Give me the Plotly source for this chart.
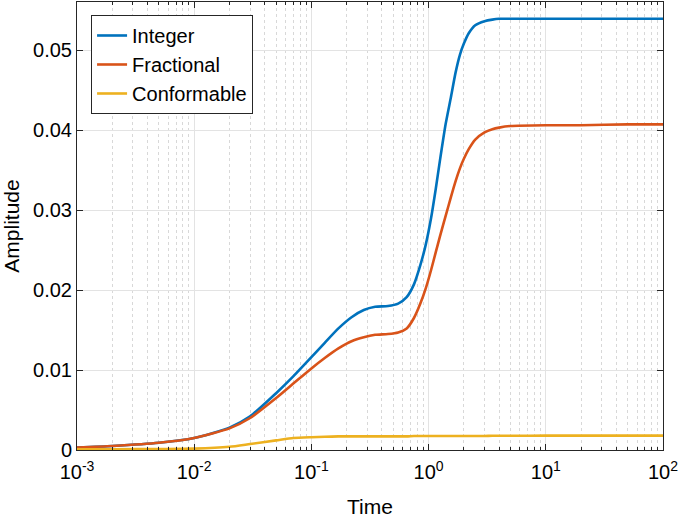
import plotly.graph_objects as go

time = [0.001, 0.002, 0.005, 0.01, 0.02, 0.03, 0.05, 0.07, 0.1, 0.13, 0.17, 0.22, 0.28,
        0.35, 0.45, 0.55, 0.65, 0.75, 0.85, 0.95, 1.05, 1.15, 1.25, 1.4, 1.55, 1.7,
        1.85, 2.0, 2.2, 2.5, 3.0, 3.5, 4.0, 5.0, 10, 20, 50, 100]

integer = [0.0003, 0.0005, 0.0009, 0.0015, 0.0028, 0.0042, 0.0071, 0.0092, 0.0116,
           0.0134, 0.0152, 0.0166, 0.0175, 0.0179, 0.0180, 0.0183, 0.0191, 0.0207,
           0.0231, 0.0258, 0.0290, 0.0326, 0.0362, 0.0408, 0.0441, 0.0472, 0.0494,
           0.0508, 0.0521, 0.0531, 0.0536, 0.0538, 0.0539, 0.0539, 0.0539, 0.0539,
           0.0539, 0.0539]

fractional = [0.0003, 0.0005, 0.0009, 0.0015, 0.0027, 0.0040, 0.0065, 0.0083, 0.0102,
              0.0115, 0.0127, 0.0136, 0.0141, 0.0144, 0.0145, 0.0147, 0.0152, 0.0165,
              0.0183, 0.0203, 0.0225, 0.0247, 0.0267, 0.0293, 0.0316, 0.0336, 0.0352,
              0.0364, 0.0376, 0.0388, 0.0397, 0.0401, 0.0403, 0.0405, 0.0406, 0.0406,
              0.0407, 0.0407]

conformable = [0.0001, 0.0001, 0.00013, 0.00017, 0.0004, 0.00075, 0.0012, 0.0015, 0.0016,
               0.00165, 0.0017, 0.0017, 0.0017, 0.0017, 0.0017, 0.0017, 0.0017, 0.00175,
               0.00175, 0.00175, 0.00175, 0.00175, 0.00175, 0.00175, 0.00175, 0.00175,
               0.00175, 0.00175, 0.00175, 0.00175, 0.00175, 0.00178, 0.00178, 0.00178,
               0.0018, 0.0018, 0.0018, 0.0018]

x_tickvals = [0.001, 0.01, 0.1, 1, 10, 100]
x_ticktext = ["10<sup>-3</sup>", "10<sup>-2</sup>", "10<sup>-1</sup>",
              "10<sup>0</sup>", "10<sup>1</sup>", "10<sup>2</sup>"]
y_tickvals = [0, 0.01, 0.02, 0.03, 0.04, 0.05]
y_ticktext = ["0", "0.01", "0.02", "0.03", "0.04", "0.05"]

series = [("Integer", integer, "#0072BD"),
          ("Fractional", fractional, "#D95319"),
          ("Conformable", conformable, "#EDB120")]

fig = go.Figure()
for name, vals, color in series:
    fig.add_trace(go.Scatter(x=time, y=vals, mode="lines", name=name,
                             line=dict(color=color, width=2.6, shape="spline", smoothing=0.6)))

font = "Liberation Sans, Arial, Helvetica, sans-serif"
fig.update_layout(
    width=680, height=518,
    margin=dict(l=77, r=17, t=2, b=68, autoexpand=False),
    paper_bgcolor="white", plot_bgcolor="white",
    font=dict(family=font, size=20, color="black"),
    showlegend=True,
    legend=dict(x=0.024, y=0.971, xanchor="left", yanchor="top",
                bgcolor="white", bordercolor="#262626", borderwidth=1,
                font=dict(size=20, color="black"), tracegroupgap=0,
                itemwidth=30),
)
fig.update_xaxes(
    type="log", range=[-3, 2], automargin=False,
    tickvals=x_tickvals, ticktext=x_ticktext, ticklabelstandoff=4,
    ticks="inside", ticklen=6, tickcolor="#262626",
    showline=True, linecolor="#262626", linewidth=1, mirror="ticks",
    showgrid=True, gridcolor="#e3e3e3", gridwidth=1,
    minor=dict(ticks="inside", ticklen=3, tickcolor="#262626", dtick="D1",
               showgrid=True, gridcolor="#d8d8d8", griddash="dot", gridwidth=1),
    title=dict(text="Time", font=dict(size=21), standoff=24),
    zeroline=False,
)
fig.update_yaxes(
    range=[0, 0.056], automargin=False,
    tickvals=y_tickvals, ticktext=y_ticktext,
    ticks="inside", ticklen=6, tickcolor="#262626",
    showline=True, linecolor="#262626", linewidth=1, mirror="ticks",
    showgrid=True, gridcolor="#e3e3e3", gridwidth=1,
    title=dict(text="Amplitude", font=dict(size=21), standoff=13),
    zeroline=False,
)
fig.write_html("out.html", config={"displayModeBar": False},
               post_script="document.body.style.margin='0';document.body.style.overflow='hidden';")
